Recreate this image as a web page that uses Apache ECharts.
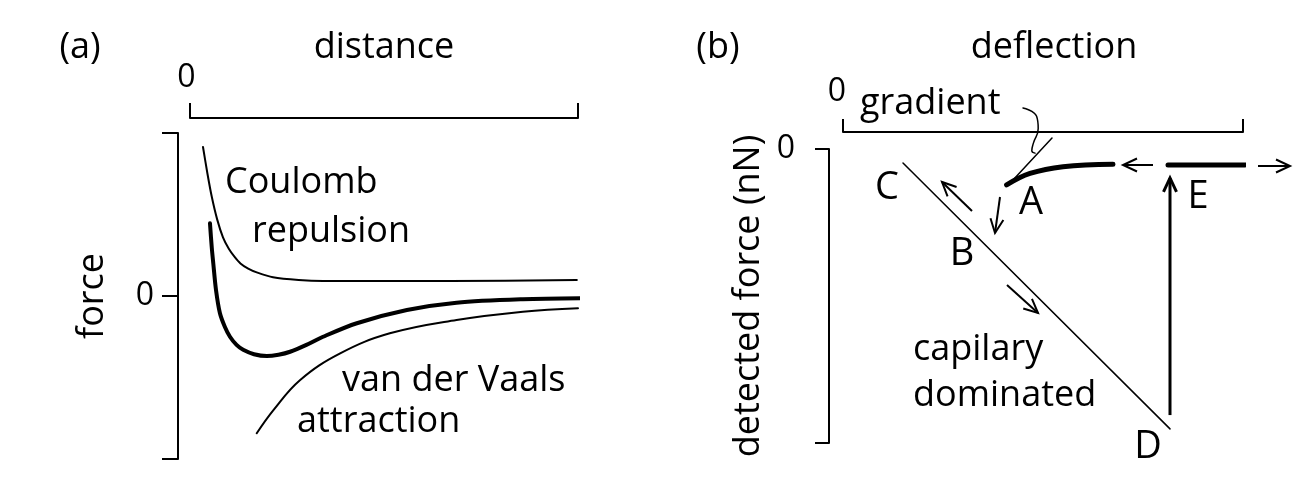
<!DOCTYPE html>
<html><head><meta charset="utf-8">
<script src="https://cdn.jsdelivr.net/npm/echarts@6/dist/echarts.min.js"></script>
<style>html,body{margin:0;padding:0;background:#fff}#c{width:1309px;height:503px}</style>
</head><body><div id="c"></div>
<script>
const FONT = '"Open Sans", sans-serif';

// ---------- panel (a) data ----------
const distanceTickLabels = ['0', ''];
const forceTickLabels = ['', '0', ''];
const coulombRepulsion = [[0.335,0.914],[0.45,0.75],[0.56,0.61],[0.7,0.47],[0.85,0.36],[1.0,0.29],[1.15,0.24],[1.3,0.2],[1.5,0.168],[1.72,0.145],[2.14,0.115],[2.8,0.098],[3.43,0.092],[6.7,0.092],[9.97,0.098]];
const netForce = [[0.515,0.446],[0.56,0.30],[0.60,0.20],[0.67,0.037],[0.77,-0.104],[0.9,-0.19],[1.03,-0.25],[1.2,-0.30],[1.37,-0.33],[1.65,-0.357],[1.98,-0.368],[2.28,-0.36],[2.58,-0.342],[3.0,-0.30],[3.43,-0.25],[4.30,-0.167],[5.59,-0.086],[6.87,-0.041],[8.58,-0.020],[10.1,-0.014]];
const vanDerWaalsAttraction = [[1.72,-0.842],[2.15,-0.70],[2.84,-0.515],[3.87,-0.352],[5.15,-0.229],[6.87,-0.147],[8.58,-0.096],[10.0,-0.075]];
const textA = ['Coulomb','repulsion','van der Vaals','attraction'];
const textPosA = [[0.902,0.693],[1.598,0.393],[3.918,-0.521],[2.758,-0.773]];

// ---------- panel (b) data ----------
const deflectionTickLabels = ['0', ''];
const detectedForceTickLabels = ['', '0'];
const capillaryLine = [[1.5,-0.476],[8.175,-9.52]];
const approachCurve = [[4.09,-1.22],[4.675,-0.83],[5.5,-0.60],[6.75,-0.52]];
const freeLine = [[8.125,-0.54],[10.05,-0.54]];
const gradientTangent = [[4.25,-1.054],[5.225,0.374]];
const gradientLeader = [[4.5,1.395],[4.84,1.11],[4.88,0.70],[4.76,0.20],[4.72,-0.06],[4.8,-0.14]];
const smallArrows = [[3.225,-2.109,2.475,-1.122],[3.925,-1.633,3.8,-2.857],[4.1,-4.626,4.875,-5.578],[7.75,-0.544,7.0,-0.544],[10.375,-0.578,11.175,-0.578]];
const jumpArrow = [[8.175,-9.05,8.175,-0.986]];
const letterB = ['C','A','B','E','D'];
const letterPosB = [[1.1,-1.327],[4.7,-1.837],[2.975,-3.571],[8.875,-1.633],[7.625,-10.136]];
const textB = ['capilary','dominated','gradient'];
const textPosB = [[1.75,-6.837],[1.75,-8.4],[0.425,1.53]];

function arrowRenderer(width) {
  return function (params, api) {
    const p1 = api.coord([api.value(0), api.value(1)]);
    const p2 = api.coord([api.value(2), api.value(3)]);
    const dx = p2[0]-p1[0], dy = p2[1]-p1[1];
    const len = Math.hypot(dx, dy) || 1;
    const ux = dx/len, uy = dy/len;
    const hl = 14, hw = 6.5;
    const bx = p2[0]-ux*hl, by = p2[1]-uy*hl;
    return {type:'group', children:[
      {type:'line', shape:{x1:p1[0],y1:p1[1],x2:p2[0],y2:p2[1]}, style:{stroke:'#000', lineWidth:width}},
      {type:'polyline', shape:{points:[[bx-uy*hw, by+ux*hw],[p2[0],p2[1]],[bx+uy*hw, by-ux*hw]]}, style:{stroke:'#000', lineWidth:width, fill:null}}
    ]};
  };
}
function textRenderer(texts, align, size) {
  return function (params, api) {
    const p = api.coord([api.value(0), api.value(1)]);
    return {type:'text', style:{text:texts[params.dataIndex], x:p[0], y:p[1], align:align, verticalAlign:'middle', fontSize:size, fontFamily:FONT, fill:'#000'}};
  };
}
function lineSeries(xi, data, width, smooth) {
  return {type:'line', xAxisIndex:xi, yAxisIndex:xi, data:data, smooth:smooth, symbol:'none', clip:false,
    lineStyle:{color:'#000', width:width, cap:'round', join:'round'}, silent:true, animation:false};
}
const axisStyle = {color:'#000', width:2};
const nameStyle = {fontSize:36, fontFamily:FONT, color:'#000'};
const labelStyle = (fmt, margin, padding) => ({show:true, margin:margin, padding:padding, fontSize:32, fontFamily:FONT, color:'#000', formatter:fmt});

const chart = echarts.init(document.getElementById('c'), null, {renderer:'canvas'});
chart.setOption({
  animation:false,
  backgroundColor:'#fff',
  grid:[
    {left:190, top:133, width:388, height:326, containLabel:false, outerBoundsMode:'none'},
    {left:843, top:149, width:400, height:294, containLabel:false, outerBoundsMode:'none'}
  ],
  xAxis:[
    {gridIndex:0, type:'value', position:'top', min:0, max:10, interval:10, offset:15,
     axisLine:{show:true, onZero:false, lineStyle:axisStyle}, axisTick:{show:true, length:15, lineStyle:axisStyle},
     axisLabel:labelStyle(v => distanceTickLabels[Math.round(v/10)], 24, [0,7,0,0]), splitLine:{show:false},
     name:'distance', nameLocation:'middle', nameGap:52, nameMoveOverlap:false, nameTextStyle:nameStyle},
    {gridIndex:1, type:'value', position:'top', min:0, max:10, interval:10, offset:17,
     axisLine:{show:true, onZero:false, lineStyle:axisStyle}, axisTick:{show:true, length:13, lineStyle:axisStyle},
     axisLabel:labelStyle(v => deflectionTickLabels[Math.round(v/10)], 24, [0,12,0,0]), splitLine:{show:false},
     name:'deflection', nameLocation:'middle', nameGap:66, nameMoveOverlap:false, nameTextStyle:Object.assign({padding:[0,0,0,22]}, nameStyle)}
  ],
  yAxis:[
    {gridIndex:0, type:'value', min:-1, max:1, interval:1, offset:12,
     axisLine:{show:true, onZero:false, lineStyle:axisStyle}, axisTick:{show:true, length:16, lineStyle:axisStyle},
     axisLabel:labelStyle(v => forceTickLabels[Math.round(v+1)], 24, 0), splitLine:{show:false},
     name:'force', nameLocation:'middle', nameGap:67, nameMoveOverlap:false, nameRotate:90, nameTextStyle:nameStyle},
    {gridIndex:1, type:'value', min:-10, max:0, interval:10, offset:14,
     axisLine:{show:true, onZero:false, lineStyle:axisStyle}, axisTick:{show:true, length:14, lineStyle:axisStyle},
     axisLabel:labelStyle(v => detectedForceTickLabels[Math.round(v/10+1)], 34, 0), splitLine:{show:false},
     name:'detected force (nN)', nameLocation:'middle', nameGap:62, nameMoveOverlap:false, nameRotate:90, nameTextStyle:nameStyle}
  ],
  graphic:[
    {type:'text', style:{text:'(a)', x:80, y:48, align:'center', verticalAlign:'middle', fontSize:36, fontFamily:FONT, fill:'#000'}},
    {type:'text', style:{text:'(b)', x:718, y:48, align:'center', verticalAlign:'middle', fontSize:36, fontFamily:FONT, fill:'#000'}}
  ],
  series:[
    lineSeries(0, coulombRepulsion, 2, 0.3),
    lineSeries(0, netForce, 4, 0.3),
    lineSeries(0, vanDerWaalsAttraction, 2, 0.4),
    {type:'custom', xAxisIndex:0, yAxisIndex:0, data:textPosA, clip:false, silent:true, renderItem:textRenderer(textA, 'left', 36)},
    lineSeries(1, capillaryLine, 1.5, false),
    lineSeries(1, approachCurve, 5, 0.4),
    lineSeries(1, freeLine, 5, false),
    lineSeries(1, gradientTangent, 1.5, false),
    lineSeries(1, gradientLeader, 1.5, 0.5),
    {type:'custom', xAxisIndex:1, yAxisIndex:1, data:smallArrows, encode:{x:[0,2], y:[1,3]}, clip:false, silent:true, renderItem:arrowRenderer(2)},
    {type:'custom', xAxisIndex:1, yAxisIndex:1, data:jumpArrow, encode:{x:[0,2], y:[1,3]}, clip:false, silent:true, renderItem:arrowRenderer(3)},
    {type:'custom', xAxisIndex:1, yAxisIndex:1, data:letterPosB, clip:false, silent:true, renderItem:textRenderer(letterB, 'center', 38)},
    {type:'custom', xAxisIndex:1, yAxisIndex:1, data:textPosB, clip:false, silent:true, renderItem:textRenderer(textB, 'left', 36)}
  ]
});
</script></body></html>
